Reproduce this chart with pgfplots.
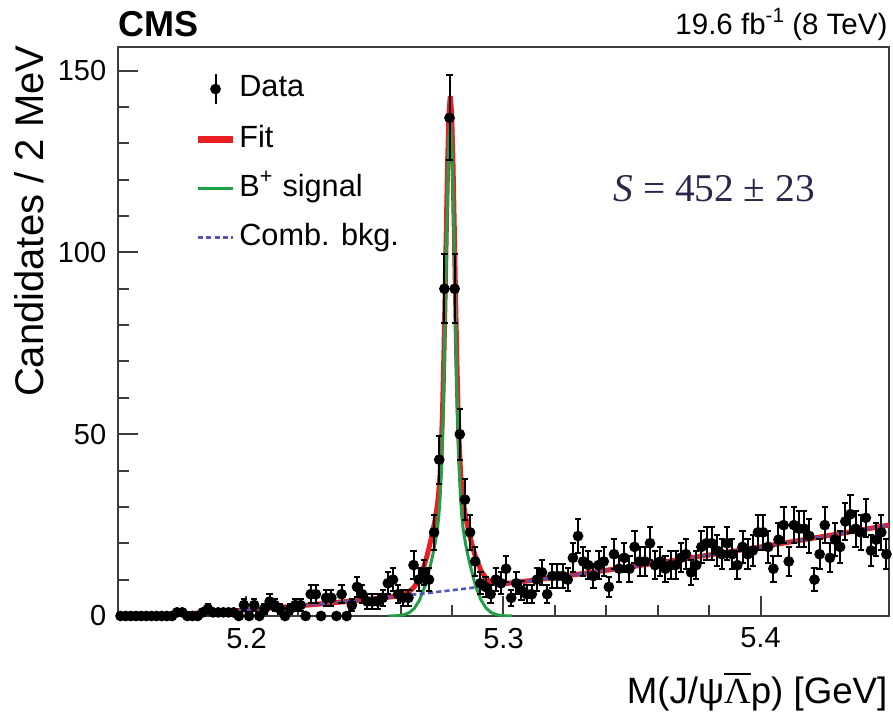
\documentclass[border=0pt]{standalone}
\usepackage{fontspec}
\setmainfont{Liberation Sans}
\newfontfamily\timesfont{Liberation Serif}
\usepackage{pgfplots}
\pgfplotsset{compat=1.18}
\usepackage{pgfplotstable}

\definecolor{fitred}{RGB}{235,30,35}
\definecolor{siggreen}{RGB}{30,160,70}
\definecolor{bkgblue}{RGB}{85,85,190}
\definecolor{snavy}{RGB}{40,40,75}
\definecolor{axgray}{RGB}{60,60,60}

\pgfplotstableread[row sep=\\]{
m n\\
5.151 0\\ 5.153 0\\ 5.155 0\\ 5.157 0\\ 5.159 0\\ 5.161 0\\ 5.163 0\\ 5.165 0\\ 5.167 0\\ 5.169 0\\
5.171 0\\ 5.173 1\\ 5.175 1\\ 5.177 0\\ 5.179 0\\ 5.181 0\\ 5.183 1\\ 5.185 2\\ 5.187 1\\ 5.189 1\\
5.191 1\\ 5.193 1\\ 5.195 1\\ 5.197 0\\ 5.199 3\\ 5.201 0\\ 5.203 3\\ 5.205 0\\ 5.207 2\\ 5.209 4\\
5.211 3\\ 5.213 2\\ 5.215 0\\ 5.217 2\\ 5.219 3\\ 5.221 3\\ 5.223 0\\ 5.225 6\\ 5.227 6\\ 5.229 0\\
5.231 5\\ 5.233 5\\ 5.235 0\\ 5.237 6\\ 5.239 0\\ 5.241 3\\ 5.243 8\\ 5.245 6\\ 5.247 4\\ 5.249 4\\
5.251 4\\ 5.253 5\\ 5.255 9\\ 5.257 10\\ 5.259 6\\ 5.261 5\\ 5.263 5\\ 5.265 14\\ 5.267 10\\ 5.269 12\\
5.271 10\\ 5.273 23\\ 5.275 43\\ 5.277 90\\ 5.279 137\\ 5.281 90\\ 5.283 50\\ 5.285 32\\ 5.287 23\\ 5.289 15\\
5.291 9\\ 5.293 8\\ 5.295 6\\ 5.297 10\\ 5.299 9\\ 5.301 13\\ 5.303 5\\ 5.305 9\\ 5.307 7\\ 5.309 6\\
5.311 6\\ 5.313 10\\ 5.315 12\\ 5.317 6\\ 5.319 11\\ 5.321 11\\ 5.323 11\\ 5.325 10\\ 5.327 16\\ 5.329 22\\
5.331 15\\ 5.333 14\\ 5.335 11\\ 5.337 14\\ 5.339 15\\ 5.341 8\\ 5.343 17\\ 5.345 13\\ 5.347 16\\ 5.349 13\\
5.351 19\\ 5.353 15\\ 5.355 15\\ 5.357 20\\ 5.359 14\\ 5.361 15\\ 5.363 13\\ 5.365 14\\ 5.367 14\\ 5.369 16\\
5.371 17\\ 5.373 12\\ 5.375 14\\ 5.377 19\\ 5.379 20\\ 5.381 20\\ 5.383 18\\ 5.385 17\\ 5.387 20\\ 5.389 17\\
5.391 14\\ 5.393 19\\ 5.395 17\\ 5.397 18\\ 5.399 23\\ 5.401 23\\ 5.403 19\\ 5.405 13\\ 5.407 21\\ 5.409 25\\
5.411 15\\ 5.413 25\\ 5.415 24\\ 5.417 24\\ 5.419 22\\ 5.421 10\\ 5.423 17\\ 5.425 25\\ 5.427 16\\ 5.429 21\\
5.431 19\\ 5.433 26\\ 5.435 28\\ 5.437 24\\ 5.439 23\\ 5.441 27\\ 5.443 18\\ 5.445 21\\ 5.447 23\\ 5.449 17\\
}\datatable

\pgfplotstableread[row sep=\\]{
m y\\
5.150 0\\ 5.155 0.04\\ 5.160 0.13\\ 5.170 0.40\\ 5.180 0.76\\ 5.190 1.18\\ 5.200 1.66\\ 5.210 2.19\\
5.220 2.77\\ 5.230 3.40\\ 5.240 4.06\\ 5.250 4.77\\
5.2573 5.34\\ 5.2593 5.57\\ 5.2613 5.96\\ 5.2633 6.67\\ 5.2653 8.01\\ 5.2673 10.40\\ 5.2693 14.23\\
5.2703 16.70\\ 5.2713 19.58\\ 5.2723 22.66\\ 5.2733 26.14\\ 5.2743 30.62\\ 5.2748 33.96\\ 5.2753 38.81\\
5.2758 46.25\\ 5.2763 56.89\\ 5.2768 71.43\\ 5.2773 89.27\\ 5.2778 108.41\\ 5.2783 126.05\\ 5.2788 138.49\\
5.2793 143.03\\ 5.2798 138.57\\ 5.2803 126.21\\ 5.2808 108.65\\ 5.2813 89.60\\ 5.2818 71.84\\ 5.2823 57.38\\
5.2828 46.82\\ 5.2833 39.46\\ 5.2838 34.70\\ 5.2843 31.45\\ 5.2853 27.13\\ 5.2863 23.81\\ 5.2873 20.90\\
5.2883 18.18\\ 5.2893 15.87\\ 5.2913 12.37\\ 5.2933 10.31\\ 5.2953 9.30\\ 5.2973 8.92\\ 5.2993 8.86\\ 5.3013 8.96\\
5.310 9.70\\ 5.320 10.63\\ 5.330 11.59\\ 5.340 12.57\\ 5.350 13.58\\ 5.360 14.62\\ 5.370 15.68\\ 5.380 16.77\\
5.390 17.88\\ 5.400 19.01\\ 5.410 20.17\\ 5.420 21.35\\ 5.430 22.55\\ 5.440 23.77\\ 5.450 25.02\\
}\fittable

\pgfplotstableread[row sep=\\]{
m y\\
5.2553 0.00\\ 5.2573 0.04\\ 5.2593 0.12\\ 5.2613 0.36\\ 5.2633 0.91\\ 5.2653 2.10\\ 5.2673 4.33\\ 5.2693 8.0\\
5.2703 10.4\\ 5.2713 13.2\\ 5.2723 16.2\\ 5.2733 19.6\\ 5.2743 24.0\\ 5.2748 27.3\\ 5.2753 32.1\\ 5.2758 39.5\\
5.2763 50.1\\ 5.2768 64.6\\ 5.2773 82.4\\ 5.2778 101.5\\ 5.2783 119.1\\ 5.2788 131.5\\ 5.2793 136.0\\
5.2798 131.5\\ 5.2803 119.1\\ 5.2808 101.5\\ 5.2813 82.4\\ 5.2818 64.6\\ 5.2823 50.1\\ 5.2828 39.5\\
5.2833 32.1\\ 5.2838 27.3\\ 5.2843 24.0\\ 5.2853 19.6\\ 5.2863 16.2\\ 5.2873 13.2\\ 5.2883 10.4\\ 5.2893 8.0\\
5.2913 4.33\\ 5.2933 2.10\\ 5.2953 0.91\\ 5.2973 0.36\\ 5.2993 0.12\\ 5.3013 0.04\\ 5.3033 0.00\\
}\sigtable

\pgfplotstableread[row sep=\\]{
m y\\
5.151 0\\ 5.153 0.01\\ 5.155 0.04\\ 5.160 0.13\\ 5.170 0.40\\ 5.180 0.76\\ 5.190 1.18\\ 5.200 1.66\\
5.210 2.19\\ 5.220 2.77\\ 5.230 3.40\\ 5.240 4.06\\ 5.250 4.77\\ 5.260 5.51\\ 5.270 6.28\\ 5.280 7.09\\
5.290 7.93\\ 5.300 8.80\\ 5.310 9.70\\ 5.320 10.63\\ 5.330 11.59\\ 5.340 12.57\\ 5.350 13.58\\ 5.360 14.62\\
5.370 15.68\\ 5.380 16.77\\ 5.390 17.88\\ 5.400 19.01\\ 5.410 20.17\\ 5.420 21.35\\ 5.430 22.55\\
5.440 23.77\\ 5.450 25.02\\
}\bkgtable

\begin{document}
\begin{tikzpicture}
\path[use as bounding box] (-35.4pt,-29.7pt) rectangle (232.5pt,184.8pt);
\begin{axis}[
  at={(0pt,0pt)}, anchor=south west,
  scale only axis, width=231.3pt, height=170.7pt,
  xmin=5.15, xmax=5.45, ymin=0, ymax=156.5,
  axis line style={line width=0.6pt, axgray},
  tick align=inside, tick pos=left,
  xtick={5.2,5.3,5.4}, minor x tick num=4,
  ytick={0,50,100,150}, minor y tick num=4,
  major tick length=6pt, minor tick length=3.3pt,
  every tick/.style={axgray, line width=0.6pt},
  /pgf/number format/assume math mode=true,
  tick label style={font=\fontsize{8.7}{10}\selectfont},
  xticklabel style={/pgf/number format/fixed, /pgf/number format/precision=1},
  legend image code/.code={\draw[#1] (0pt,0pt) -- (10.5pt,0pt);},
  legend cell align=left,
  legend style={draw=none, fill=none, at={(0.0986,0.956)}, anchor=north west,
    font=\fontsize{9.2}{11}\selectfont, inner xsep=0pt, inner ysep=0pt,
    nodes={inner sep=0pt, text height=6.8pt, text depth=2.2pt},
    row sep=5.7pt, column sep=0.9pt},
]
\addlegendimage{legend image code/.code={\draw[black,line width=0.6pt] (5.25pt,-4.6pt)--(5.25pt,4.6pt); \fill[black] (5.25pt,0pt) circle (1.4pt);}}
\addlegendentry{Data}
\addlegendimage{fitred, line width=2pt}
\addlegendentry{Fit}
\addlegendimage{siggreen, line width=0.9pt}
\addlegendentry{B\textsuperscript{+} signal}
\addlegendimage{bkgblue, line width=0.8pt, dash pattern=on 1.5pt off 1pt}
\addlegendentry{Comb. bkg.}

\addplot[forget plot, fitred, line width=1.5pt] table[x=m, y=y] {\fittable};
\addplot[forget plot, siggreen, line width=0.9pt] table[x=m, y=y] {\sigtable};
\addplot[forget plot, bkgblue, line width=0.8pt, dash pattern=on 1.5pt off 1pt] table[x=m, y=y] {\bkgtable};
\addplot[forget plot, black, only marks, mark=*, mark size=1.4pt,
  error bars/.cd, y dir=both, y explicit, error mark=|,
  error bar style={line width=0.6pt, black},
  error mark options={line width=0.6pt, mark size=0.95pt, black}]
  table[x=m, y=n, y error expr=sqrt(\thisrow{n})] {\datatable};

\node[anchor=base west, inner sep=0pt, text=snavy, font=\fontsize{11.8}{13}\timesfont] at (rel axis cs:0.642,0.729) {\itshape S\upshape\ = 452 ± 23};
\end{axis}
\node[anchor=base west, font=\fontsize{10.8}{12}\selectfont\bfseries, inner sep=0pt] at (0pt,173.7pt) {CMS};
\node[anchor=base east, font=\fontsize{8.85}{10}\selectfont, inner sep=0pt] at (231pt,174.3pt) {19.6 fb\textsuperscript{-1}\kern-0.5pt\ (8 TeV)};
\node[anchor=base east, rotate=90, font=\fontsize{12}{14}\selectfont, inner sep=0pt] at (-22.5pt,171.3pt) {Candidates / 2 MeV};
\node[anchor=base east, font=\fontsize{11}{13}\selectfont, inner sep=0pt] at (231pt,-26.1pt) {M(J/ψ{\timesfont$\overline{\mbox{Λ}}$}p) [GeV]};
\end{tikzpicture}
\end{document}
